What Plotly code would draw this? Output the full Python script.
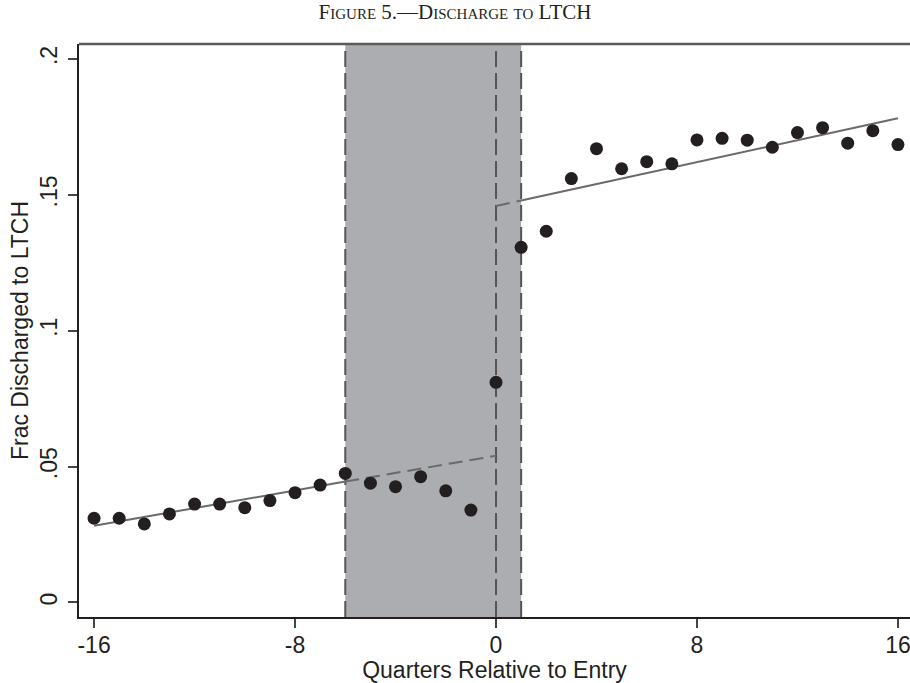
import plotly.graph_objects as go

# Quarters relative to entry and fraction discharged to LTCH
quarters = list(range(-16, 17))
frac_ltch = [0.0310, 0.0310, 0.0289, 0.0326, 0.0362, 0.0362, 0.0349, 0.0375, 0.0404,
             0.0432, 0.0475, 0.0439, 0.0426, 0.0463, 0.0411, 0.0340, 0.0810, 0.1307,
             0.1366, 0.1560, 0.1670, 0.1596, 0.1622, 0.1614, 0.1702, 0.1708, 0.1701,
             0.1675, 0.1729, 0.1747, 0.1690, 0.1736, 0.1685]

# Fitted lines
fit_pre_solid_x = [-16, -6]
fit_pre_solid_y = [0.0282, 0.0445]
fit_pre_dash_x = [-6, 0]
fit_pre_dash_y = [0.0445, 0.0540]
fit_post_dash_x = [0, 1]
fit_post_dash_y = [0.1459, 0.1479]
fit_post_solid_x = [1, 16]
fit_post_solid_y = [0.1479, 0.1782]

# Shaded window and vertical markers
window = [-6, 1]
vlines = [-6, 0, 1]

x_ticks = [-16, -8, 0, 8, 16]
y_ticks = [0, 0.05, 0.1, 0.15, 0.2]
y_tick_labels = ["0", ".05", ".1", ".15", ".2"]

line_grey = "#6a6a6a"
fig = go.Figure()
fig.add_trace(go.Scatter(x=fit_pre_solid_x, y=fit_pre_solid_y, mode="lines",
                         line=dict(color=line_grey, width=2), hoverinfo="skip"))
fig.add_trace(go.Scatter(x=fit_pre_dash_x, y=fit_pre_dash_y, mode="lines",
                         line=dict(color=line_grey, width=2, dash="14px,7px"), hoverinfo="skip"))
fig.add_trace(go.Scatter(x=fit_post_dash_x, y=fit_post_dash_y, mode="lines",
                         line=dict(color=line_grey, width=2, dash="14px,7px"), hoverinfo="skip"))
fig.add_trace(go.Scatter(x=fit_post_solid_x, y=fit_post_solid_y, mode="lines",
                         line=dict(color=line_grey, width=2), hoverinfo="skip"))
fig.add_trace(go.Scatter(x=quarters, y=frac_ltch, mode="markers",
                         marker=dict(color="#231f20", size=13, line=dict(width=0))))

fig.add_shape(type="rect", xref="x", yref="paper", x0=window[0], x1=window[1], y0=0, y1=1,
              fillcolor="#acadb1", line=dict(width=0), layer="below")
for v in vlines:
    fig.add_shape(type="line", xref="x", yref="paper", x0=v, x1=v, y0=0, y1=1,
                  line=dict(color="#555555", width=2, dash="16px,6px"), layer="below")
fig.add_shape(type="line", xref="paper", yref="paper", x0=0, x1=1, y0=1, y1=1,
              line=dict(color="#5a5a5a", width=2.5), layer="above")

axis_font = dict(family="Liberation Sans, Arial, sans-serif", size=23, color="#231f20")
fig.update_layout(
    width=910, height=683,
    margin=dict(l=79, r=0, t=44, b=66),
    paper_bgcolor="white", plot_bgcolor="white",
    showlegend=False,
    title=dict(text="Figure 5.—Discharge to LTCH", x=0.5, xanchor="center",
               y=1 - 12 / 683, yanchor="middle",
               font=dict(family="Liberation Serif, Times New Roman, serif", size=21,
                         color="#231f20", variant="small-caps")),
    xaxis=dict(range=[-16.6, 16.48], tickvals=x_ticks, ticktext=[str(t) for t in x_ticks],
               showgrid=False, zeroline=False, showline=True, linecolor="#231f20", linewidth=2,
               ticks="outside", ticklen=9, tickwidth=1.5, tickcolor="#444444",
               tickfont=axis_font, ticklabelstandoff=-3, ticklabeloverflow="allow",
               title=dict(text="Quarters Relative to Entry", font=axis_font, standoff=0)),
    yaxis=dict(range=[-0.00534, 0.2055], tickvals=y_ticks, ticktext=y_tick_labels,
               tickangle=-90, ticklabelstandoff=2,
               showgrid=False, zeroline=False, showline=True, linecolor="#231f20", linewidth=2,
               ticks="outside", ticklen=9, tickwidth=1.5, tickcolor="#444444",
               tickfont=axis_font,
               title=dict(text="Frac Discharged to LTCH", font=axis_font, standoff=1)),
)

fig.write_html("out.html", config={"displayModeBar": False},
               post_script="document.body.style.margin='0';document.body.style.overflow='hidden';")
